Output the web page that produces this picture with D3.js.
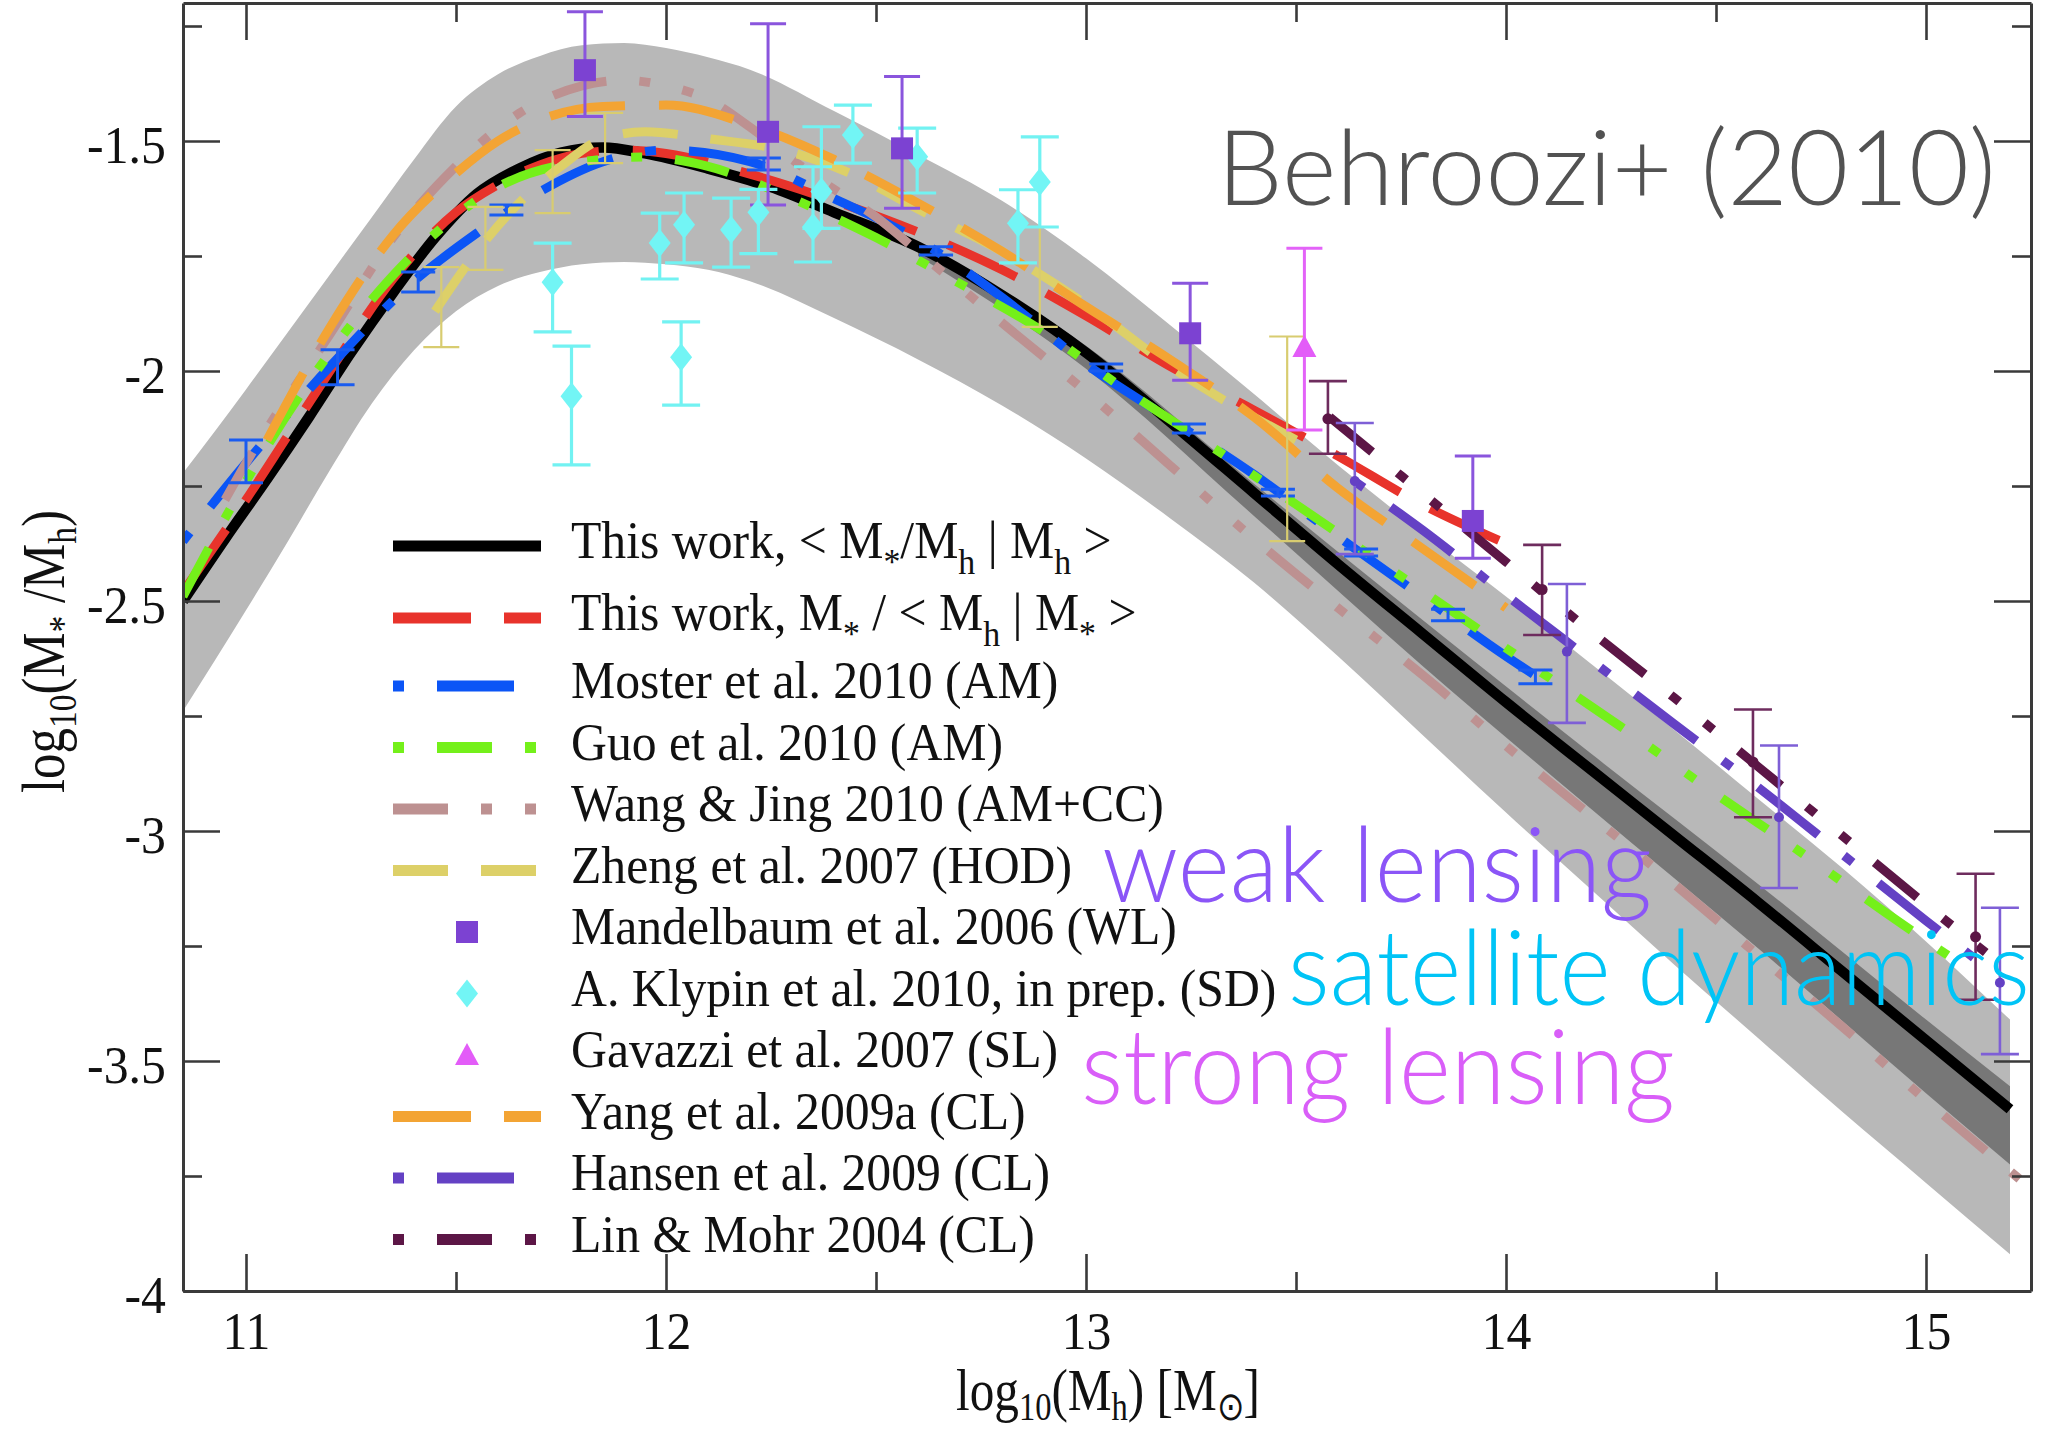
<!DOCTYPE html>
<html>
<head>
<meta charset="utf-8">
<title>Stellar-to-halo mass ratio</title>
<script src="https://cdn.jsdelivr.net/npm/d3@7/dist/d3.min.js"></script>
<style>
  html, body { margin: 0; padding: 0; background: #fff; }
  svg { display: block; }
</style>
</head>
<body>
<svg id="chart" width="2050" height="1433"></svg>
<script>
// ---------------- axis ticks ----------------
const xMajorTicks = [11, 12, 13, 14, 15];
const xMinorTicks = [11.5, 12.5, 13.5, 14.5];
const yMajorTicks = [-4, -3.5, -3, -2.5, -2, -1.5];
const yMinorTicks = [-3.75, -3.25, -2.75, -2.25, -1.75, -1.25];

// ---------------- envelopes: [log Mh, lower, upper] ----------------
const envelope = [
  [10.85, -2.739, -2.222], [11.0, -2.52, -2.04], [11.1, -2.37, -1.915], [11.2, -2.215, -1.79],
  [11.3, -2.07, -1.665], [11.4, -1.955, -1.54], [11.5, -1.87, -1.425], [11.6, -1.815, -1.355],
  [11.7, -1.785, -1.315], [11.8, -1.768, -1.292], [11.9, -1.763, -1.287], [12.0, -1.768, -1.298],
  [12.1, -1.78, -1.318], [12.2, -1.805, -1.345], [12.4, -1.885, -1.435], [12.6, -1.975, -1.53],
  [12.8, -2.075, -1.63], [13.0, -2.19, -1.755], [13.2, -2.32, -1.9], [13.4, -2.46, -2.05],
  [13.6, -2.62, -2.205], [13.8, -2.79, -2.35], [14.0, -2.96, -2.49], [14.2, -3.125, -2.635],
  [14.4, -3.29, -2.78], [14.6, -3.45, -2.93], [14.8, -3.61, -3.08], [15.0, -3.765, -3.24],
  [15.2, -3.92, -3.41]
];
const systEnvelope = [
  [12.6, -1.75, -1.72], [13.0, -1.995, -1.945], [13.4, -2.315, -2.245], [13.8, -2.64, -2.54],
  [14.2, -2.95, -2.83], [14.6, -3.255, -3.115], [15.0, -3.57, -3.41], [15.2, -3.725, -3.555]
];

// ---------------- model curves: [log Mh, log(M*/Mh)] ----------------
const thisWorkMean = [
  [10.85, -2.50], [10.95, -2.365], [11.05, -2.235], [11.15, -2.10], [11.25, -1.96], [11.35, -1.83],
  [11.45, -1.71], [11.55, -1.615], [11.65, -1.56], [11.75, -1.525], [11.85, -1.514], [11.95, -1.527],
  [12.1, -1.56], [12.25, -1.60], [12.4, -1.655], [12.6, -1.73], [12.8, -1.835], [13.0, -1.96],
  [13.2, -2.11], [13.4, -2.265], [13.6, -2.42], [13.8, -2.57], [14.0, -2.72], [14.2, -2.865],
  [14.4, -3.01], [14.6, -3.155], [14.8, -3.305], [15.0, -3.455], [15.2, -3.605]
];
const thisWorkInverse = [
  [10.85, -2.48], [11.0, -2.28], [11.1, -2.14], [11.2, -2.0], [11.35, -1.80], [11.5, -1.655],
  [11.6, -1.595], [11.7, -1.552], [11.8, -1.527], [11.9, -1.52], [12.0, -1.527], [12.2, -1.572],
  [12.4, -1.63], [12.6, -1.698], [12.8, -1.78], [13.0, -1.88], [13.2, -1.99], [13.4, -2.085],
  [13.6, -2.185], [13.8, -2.29], [14.0, -2.375]
];
const moster2010 = [
  [10.85, -2.37], [11.0, -2.20], [11.2, -1.99], [11.4, -1.805], [11.55, -1.70], [11.7, -1.61],
  [11.85, -1.545], [12.0, -1.52], [12.2, -1.545], [12.4, -1.625], [12.6, -1.715], [12.8, -1.84],
  [13.0, -1.985], [13.2, -2.105], [13.4, -2.225], [13.6, -2.36], [13.8, -2.49], [14.0, -2.62], [14.1, -2.68]
];
const guo2010 = [
  [10.85, -2.49], [11.0, -2.24], [11.2, -1.96], [11.4, -1.745], [11.6, -1.60], [11.8, -1.545],
  [11.95, -1.535], [12.1, -1.555], [12.3, -1.625], [12.5, -1.71], [12.7, -1.81], [12.9, -1.915],
  [13.1, -2.045], [13.3, -2.165], [13.5, -2.29], [13.7, -2.415], [13.9, -2.54], [14.1, -2.665],
  [14.3, -2.79], [14.5, -2.92], [14.7, -3.045], [14.9, -3.175], [15.1, -3.30]
];
const wangJing2010 = [
  [10.95, -2.28], [11.0, -2.20], [11.2, -1.92], [11.35, -1.71], [11.5, -1.555], [11.65, -1.44],
  [11.8, -1.38], [11.9, -1.368], [12.0, -1.38], [12.1, -1.41], [12.2, -1.47], [12.3, -1.54],
  [12.4, -1.605], [12.5, -1.665], [12.6, -1.74], [12.8, -1.895], [13.0, -2.045], [13.2, -2.205],
  [13.4, -2.365], [13.6, -2.515], [13.8, -2.66], [14.0, -2.815], [14.2, -2.965], [14.4, -3.115],
  [14.6, -3.27], [14.8, -3.425], [15.0, -3.585], [15.24, -3.77]
];
const zheng2007 = [
  [11.45, -1.87], [11.55, -1.74], [11.65, -1.635], [11.75, -1.555], [11.85, -1.495], [11.95, -1.48],
  [12.1, -1.495], [12.3, -1.525], [12.45, -1.575], [12.6, -1.648], [12.8, -1.74], [13.0, -1.855],
  [13.2, -1.99], [13.5, -2.15]
];
const yang2009 = [
  [11.05, -2.15], [11.2, -1.905], [11.35, -1.705], [11.5, -1.57], [11.6, -1.50], [11.7, -1.454],
  [11.85, -1.425], [12.0, -1.422], [12.2, -1.465], [12.4, -1.54], [12.6, -1.635], [12.8, -1.74],
  [13.0, -1.86], [13.2, -1.975], [13.4, -2.10], [13.6, -2.255], [13.8, -2.385], [14.0, -2.515]
];
const hansen2009 = [
  [13.64, -2.24], [13.8, -2.345], [14.0, -2.487], [14.2, -2.627], [14.4, -2.767], [14.6, -2.905],
  [14.8, -3.05], [15.0, -3.195], [15.12, -3.28]
];
const linMohr2004 = [
  [13.58, -2.10], [13.8, -2.265], [14.0, -2.415], [14.2, -2.565], [14.4, -2.71], [14.6, -2.86],
  [14.8, -3.01], [15.0, -3.16], [15.15, -3.27]
];

// ---------------- measurements: [log Mh, value, low, high] ----------------
const mandelbaum2006 = [
  [11.807, -1.346, -1.447, -1.219], [12.243, -1.480, -1.639, -1.245], [12.562, -1.516, -1.646, -1.36],
  [13.248, -1.918, -2.02, -1.809], [13.921, -2.326, -2.407, -2.185]
];
const klypin2010 = [
  [11.73, -1.807, -1.915, -1.722], [11.775, -2.055, -2.204, -1.946], [11.985, -1.722, -1.80, -1.657],
  [12.043, -1.682, -1.765, -1.613], [12.036, -1.970, -2.074, -1.893], [12.155, -1.693, -1.774, -1.624],
  [12.22, -1.655, -1.745, -1.605], [12.35, -1.687, -1.763, -1.556], [12.37, -1.610, -1.69, -1.469],
  [12.445, -1.487, -1.548, -1.422], [12.598, -1.534, -1.613, -1.472], [12.838, -1.679, -1.765, -1.606],
  [12.89, -1.589, -1.687, -1.491]
];
const gavazzi2007 = [[13.52, -1.948, -2.128, -1.733]];
const linPoints = [
  [13.576, -2.104, -2.18, -2.022], [14.086, -2.475, -2.574, -2.378],
  [14.588, -2.85, -2.97, -2.736], [15.118, -3.23, -3.367, -3.093]
];
const hansenPoints = [
  [13.64, -2.239, -2.398, -2.113], [14.145, -2.61, -2.765, -2.463],
  [14.65, -2.97, -3.124, -2.814], [15.176, -3.33, -3.485, -3.167]
];
// error ranges drawn on the model curves: [log Mh, low, high]
const zhengBars = [
  [11.465, -1.948, -1.774], [11.57, -1.78, -1.643], [11.73, -1.657, -1.52],
  [11.855, -1.548, -1.439], [12.89, -1.904, -1.687], [13.479, -2.37, -1.925]
];
const mosterBars = [
  [11.0, -2.243, -2.15], [11.218, -2.03, -1.954], [11.41, -1.828, -1.785], [11.62, -1.661, -1.639],
  [12.233, -1.563, -1.537], [12.643, -1.748, -1.73], [13.048, -2.0, -1.985], [13.245, -2.135, -2.115],
  [13.457, -2.272, -2.257], [13.655, -2.402, -2.387], [13.862, -2.543, -2.518], [14.07, -2.68, -2.65]
];

// ---------------- legend text ([text, isSubscript]) ----------------
const legendLabels = [
  [["This work, < M", 0], ["*", 1], ["/M", 0], ["h", 1], [" | M", 0], ["h", 1], [" >", 0]],
  [["This work, M", 0], ["*", 1], [" / < M", 0], ["h", 1], [" | M", 0], ["*", 1], [" >", 0]],
  [["Moster et al. 2010 (AM)", 0]],
  [["Guo et al. 2010 (AM)", 0]],
  [["Wang & Jing 2010 (AM+CC)", 0]],
  [["Zheng et al. 2007 (HOD)", 0]],
  [["Mandelbaum et al. 2006 (WL)", 0]],
  [["A. Klypin et al. 2010, in prep. (SD)", 0]],
  [["Gavazzi et al. 2007 (SL)", 0]],
  [["Yang et al. 2009a (CL)", 0]],
  [["Hansen et al. 2009 (CL)", 0]],
  [["Lin & Mohr 2004 (CL)", 0]]
];
const xTitle = [["log", 0], ["10", 1], ["(M", 0], ["h", 1], [") [M", 0], ["\u2299", 1], ["]", 0]];
const yTitle = [["log", 0], ["10", 1], ["(M", 0], ["*", 1], [" /M", 0], ["h", 1], [")", 0]];
const noteLabels = ["Behroozi+ (2010)", "weak lensing", "satellite dynamics", "strong lensing"];

// ---------------- layout ----------------
const plot = { left: 183, right: 2031, top: 3, bottom: 1291 };
const serif = "'Liberation Serif', 'Times New Roman', Times, serif";
const sans = "Lato, 'Open Sans', 'Noto Sans', sans-serif";

const svg = d3.select('#chart');
const x = d3.scaleLinear().domain([10.85, 15.25]).range([plot.left, plot.right]);
const y = d3.scaleLinear().domain([-4, -1.2]).range([plot.bottom, plot.top]);

svg.append('defs').append('clipPath').attr('id', 'plotClip')
  .append('rect').attr('x', plot.left).attr('y', plot.top)
  .attr('width', plot.right - plot.left).attr('height', plot.bottom - plot.top);

const plotG = svg.append('g').attr('clip-path', 'url(#plotClip)');

// envelopes
const band = d3.area().x(d => x(d[0])).y0(d => y(d[1])).y1(d => y(d[2])).curve(d3.curveMonotoneX);
plotG.append('path').datum(envelope).attr('d', band).attr('fill', '#b8b8b8');
plotG.append('path').datum(systEnvelope).attr('d', band).attr('fill', '#777777');

// model curves
const line = d3.line().x(d => x(d[0])).y(d => y(d[1])).curve(d3.curveMonotoneX);
const curves = [
  { data: thisWorkMean,    color: '#000000', dash: null,                 width: 10.5 },
  { data: thisWorkInverse, color: '#e8332b', dash: '76,34',              width: 9 },
  { data: moster2010,      color: '#0b55f6', dash: '11,33,77,33',        width: 9 },
  { data: guo2010,         color: '#74f01a', dash: '55,33,11,33,11,33',  width: 9 },
  { data: wangJing2010,    color: '#bd9191', dash: '55,33,11,33,11,33',  width: 9 },
  { data: zheng2007,       color: '#ddd068', dash: '55,33',              width: 9 },
  { data: yang2009,        color: '#f3a434', dash: '76,34',              width: 9 },
  { data: hansen2009,      color: '#6441c4', dash: '11,33,77,33',        width: 9 },
  { data: linMohr2004,     color: '#5c1646', dash: '55,33,11,33,11,33',  width: 9 }
];
curves.forEach(c => {
  plotG.append('path').datum(c.data).attr('d', line)
    .attr('fill', 'none').attr('stroke', c.color).attr('stroke-width', c.width)
    .attr('stroke-dasharray', c.dash).attr('stroke-linecap', 'butt').attr('stroke-linejoin', 'round');
});

// error bars
function errorBars(data, xAcc, loAcc, hiAcc, color, width, cap) {
  const g = svg.append('g').attr('stroke', color).attr('stroke-width', width).attr('fill', 'none');
  g.selectAll('line.v').data(data).join('line').attr('class', 'v')
    .attr('x1', d => x(xAcc(d))).attr('x2', d => x(xAcc(d)))
    .attr('y1', d => y(loAcc(d))).attr('y2', d => y(hiAcc(d)));
  [loAcc, hiAcc].forEach((acc, i) => {
    g.selectAll('line.c' + i).data(data).join('line').attr('class', 'c' + i)
      .attr('x1', d => x(xAcc(d)) - cap / 2).attr('x2', d => x(xAcc(d)) + cap / 2)
      .attr('y1', d => y(acc(d))).attr('y2', d => y(acc(d)));
  });
}
const px = d => d[0], pLo = d => d[2], pHi = d => d[3];
const bLo = d => d[1], bHi = d => d[2];

errorBars(mosterBars, px, bLo, bHi, '#1a5cf0', 3, 34);
errorBars(zhengBars, px, bLo, bHi, '#d8cc70', 2.2, 36);
errorBars(klypin2010, px, pLo, pHi, '#72f2f2', 3.2, 38);
errorBars(mandelbaum2006, px, pLo, pHi, '#8a55dd', 3, 36);
errorBars(gavazzi2007, px, pLo, pHi, '#e363f8', 3, 36);
errorBars(linPoints, px, pLo, pHi, '#6e2c5e', 2.6, 38);
errorBars(hansenPoints, px, pLo, pHi, '#7e5fd6', 2.6, 38);

// markers
const markerPath = {
  square: 'M-11,-11H11V11H-11Z',
  diamond: 'M0,-14L11,0L0,14L-11,0Z',
  triangle: 'M0,-12L12,10L-12,10Z'
};
function markers(data, shape, color) {
  svg.append('g').selectAll('path').data(data).join('path')
    .attr('transform', d => `translate(${x(d[0])},${y(d[1])})`)
    .attr('d', markerPath[shape]).attr('fill', color);
}
markers(klypin2010, 'diamond', '#72f5f5');
markers(mandelbaum2006, 'square', '#7c42d2');
markers(gavazzi2007, 'triangle', '#e35cf8');
svg.append('g').selectAll('circle').data(linPoints).join('circle')
  .attr('cx', d => x(d[0])).attr('cy', d => y(d[1])).attr('r', 5.5).attr('fill', '#5c1646');
svg.append('g').selectAll('circle').data(hansenPoints).join('circle')
  .attr('cx', d => x(d[0])).attr('cy', d => y(d[1])).attr('r', 5).attr('fill', '#6441c4');

// ---------------- axes ----------------
const axisColor = '#3a3a3a';
function styleAxis(g, keepDomain) {
  if (keepDomain) g.select('.domain').attr('stroke', axisColor).attr('stroke-width', 3);
  else g.select('.domain').remove();
  g.selectAll('.tick line').attr('stroke', axisColor).attr('stroke-width', 2.6);
  g.attr('font-family', serif).attr('font-size', 52);
  g.selectAll('.tick text').attr('fill', '#111');
}
const fmt = d => String(d);
const axesG = svg.append('g');
const bottomMajor = axesG.append('g').attr('transform', `translate(0,${plot.bottom})`)
  .call(d3.axisBottom(x).tickValues(xMajorTicks).tickSizeInner(-37).tickSizeOuter(0).tickPadding(21).tickFormat(fmt));
styleAxis(bottomMajor, true);
styleAxis(axesG.append('g').attr('transform', `translate(0,${plot.bottom})`)
  .call(d3.axisBottom(x).tickValues(xMinorTicks).tickSizeInner(-19).tickSizeOuter(0).tickFormat('')), false);
styleAxis(axesG.append('g').attr('transform', `translate(0,${plot.top})`)
  .call(d3.axisTop(x).tickValues(xMajorTicks).tickSizeInner(-37).tickSizeOuter(0).tickFormat('')), true);
styleAxis(axesG.append('g').attr('transform', `translate(0,${plot.top})`)
  .call(d3.axisTop(x).tickValues(xMinorTicks).tickSizeInner(-19).tickSizeOuter(0).tickFormat('')), false);
const leftMajor = axesG.append('g').attr('transform', `translate(${plot.left},0)`)
  .call(d3.axisLeft(y).tickValues(yMajorTicks).tickSizeInner(-37).tickSizeOuter(0).tickPadding(18).tickFormat(fmt));
styleAxis(leftMajor, true);
leftMajor.selectAll('.tick text').attr('dy', '0.42em');
styleAxis(axesG.append('g').attr('transform', `translate(${plot.left},0)`)
  .call(d3.axisLeft(y).tickValues(yMinorTicks).tickSizeInner(-19).tickSizeOuter(0).tickFormat('')), false);
styleAxis(axesG.append('g').attr('transform', `translate(${plot.right},0)`)
  .call(d3.axisRight(y).tickValues(yMajorTicks).tickSizeInner(-37).tickSizeOuter(0).tickFormat('')), true);
styleAxis(axesG.append('g').attr('transform', `translate(${plot.right},0)`)
  .call(d3.axisRight(y).tickValues(yMinorTicks).tickSizeInner(-19).tickSizeOuter(0).tickFormat('')), false);

// ---------------- rich text helper ----------------
function richText(parent, segs, size, subScale, shift) {
  const t = parent.append('text').attr('x', 0).attr('y', 0)
    .attr('font-family', serif).attr('font-size', size).attr('fill', '#111')
    .style('white-space', 'pre');
  let down = false;
  segs.forEach(([s, sub]) => {
    const ts = t.append('tspan').text(s);
    if (sub) {
      ts.attr('font-size', size * subScale);
      if (!down) { ts.attr('dy', shift * size); down = true; }
    } else if (down) {
      ts.attr('dy', -shift * size); down = false;
    }
  });
  return t;
}

// ---------------- legend ----------------
const legendItems = [
  { kind: 'line', color: '#000000', dash: null, offset: 0 },
  { kind: 'line', color: '#e8332b', dash: '78,33', offset: 0 },
  { kind: 'line', color: '#0b55f6', dash: '11,33,77,33', offset: 0 },
  { kind: 'line', color: '#74f01a', dash: '55,33,11,33,11,33', offset: 132 },
  { kind: 'line', color: '#bd9191', dash: '55,33,11,33,11,33', offset: 0 },
  { kind: 'line', color: '#ddd068', dash: '55,33', offset: 0 },
  { kind: 'marker', shape: 'square', color: '#7c42d2' },
  { kind: 'marker', shape: 'diamond', color: '#72f5f5' },
  { kind: 'marker', shape: 'triangle', color: '#e35cf8' },
  { kind: 'line', color: '#f3a434', dash: '78,33', offset: 0 },
  { kind: 'line', color: '#6441c4', dash: '11,33,77,33', offset: 0 },
  { kind: 'line', color: '#5c1646', dash: '55,33,11,33,11,33', offset: 132 }
];
const legendG = svg.append('g');
const rowY = i => (i < 2 ? 546 + 72 * i : 686 + 61.5 * (i - 2));
const legendTexts = [];
legendItems.forEach((it, i) => {
  const cy = rowY(i);
  if (it.kind === 'line') {
    legendG.append('line').attr('x1', 393).attr('x2', 541).attr('y1', cy).attr('y2', cy)
      .attr('stroke', it.color).attr('stroke-width', 11)
      .attr('stroke-dasharray', it.dash).attr('stroke-dashoffset', it.offset);
  } else {
    legendG.append('path').attr('transform', `translate(467,${cy})`)
      .attr('d', markerPath[it.shape]).attr('fill', it.color);
  }
  const t = richText(legendG, legendLabels[i], 52, 0.68, 0.3);
  t.attr('data-base', cy + 12);
  legendTexts.push(t);
});
// horizontal condensing of the serif text
const refWidth = legendTexts[6].node().getComputedTextLength();
const squeeze = 606 / refWidth;
legendTexts.forEach(t => {
  t.attr('transform', `translate(571,${t.attr('data-base')}) scale(${squeeze},1)`);
});
axesG.selectAll('.tick text').attr('transform', `scale(${squeeze},1)`);

// axis titles
const xt = richText(svg.append('g'), xTitle, 60, 0.66, 0.16);
const xtw = xt.node().getBBox().width;
xt.attr('transform', `translate(956,1410) scale(${305 / xtw},1)`);
const yt = richText(svg.append('g'), yTitle, 62, 0.66, 0.2);
const ytw = yt.node().getBBox().width;
yt.attr('transform', `translate(64,793) rotate(-90) scale(${283 / ytw},1)`);

// ---------------- annotations ----------------
const notes = [
  { text: noteLabels[0], x: 1217, y: 205, w: 779, color: '#525252' },
  { text: noteLabels[1], x: 1102, y: 902, w: 550, color: '#8b55f7' },
  { text: noteLabels[2], x: 1288, y: 1005, w: 742, color: '#00c4f6' },
  { text: noteLabels[3], x: 1081, y: 1104, w: 594, color: '#d95ef8' }
];
svg.append('g').selectAll('text').data(notes).join('text')
  .attr('x', d => d.x).attr('y', d => d.y)
  .attr('font-family', sans).attr('font-weight', 300).attr('font-size', 104)
  .attr('fill', d => d.color)
  .attr('textLength', d => d.w).attr('lengthAdjust', 'spacingAndGlyphs')
  .text(d => d.text);
</script>
</body>
</html>
